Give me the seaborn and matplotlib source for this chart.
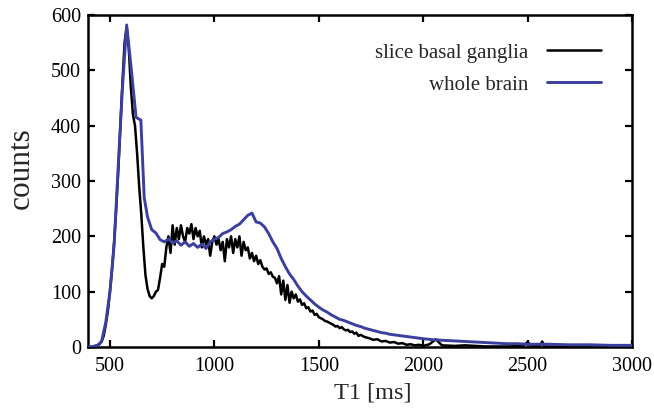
import numpy as np
import pandas as pd
import seaborn as sns
import matplotlib
matplotlib.use("Agg")
import matplotlib.pyplot as plt


sns.set_style("ticks")
plt.rcParams["font.family"] = ["Liberation Serif", "DejaVu Serif"]


# whole brain histogram
brain_t = [400, 420, 440, 460, 480, 500, 520, 540, 560, 580,
           600, 625, 648, 664, 680, 700, 720, 740, 760, 780,
           800, 820, 840, 860, 880, 900, 920, 940, 960, 980,
           1000, 1020, 1040, 1060, 1080, 1100, 1120, 1140, 1160, 1180,
           1200, 1220, 1240, 1260, 1280, 1300, 1320, 1340, 1360, 1380,
           1400, 1420, 1440, 1460, 1480, 1500, 1520, 1540, 1560, 1580,
           1600, 1620, 1640, 1660, 1680, 1700, 1720, 1740, 1760, 1780,
           1800, 1820, 1840, 1860, 1880, 1900, 1920, 1940, 1960, 1980,
           2000, 2050, 2100, 2150, 2200, 2250, 2300, 2350, 2400, 2450,
           2500, 2600, 2700, 2800, 2900, 3000]
brain_counts = [0, 1, 3, 10, 45, 100, 185, 330, 470, 582,
                510, 415, 410, 270, 235, 212, 206, 194, 190, 195,
                188, 192, 184, 190, 182, 187, 180, 186, 178, 190,
                195, 198, 205, 208, 212, 218, 222, 230, 238, 242,
                226, 224, 217, 205, 190, 178, 160, 145, 132, 122,
                110, 100, 92, 85, 78, 72, 67, 63, 58, 54,
                50, 48, 45, 42, 39, 37, 34, 32, 30, 28,
                26, 25, 23, 22, 21, 20, 19, 18, 17, 16,
                15, 13, 12, 11, 10, 9, 8, 7, 6, 6,
                5, 5, 4, 4, 3, 3]

# basal ganglia slice histogram, 10 ms bins (noisy)
slice_t = [400, 410, 420, 430, 440, 450, 460, 470, 480, 490,
           500, 510, 520, 530, 540, 550, 560, 570, 580, 590,
           600, 610, 620, 630, 640, 650, 660, 670, 680, 690,
           700, 710, 720, 730, 740, 750, 760, 770, 780, 790,
           800, 810, 820, 830, 840, 850, 860, 870, 880, 890,
           900, 910, 920, 930, 940, 950, 960, 970, 980, 990,
           1000, 1010, 1020, 1030, 1040, 1050, 1060, 1070, 1080, 1090,
           1100, 1110, 1120, 1130, 1140, 1150, 1160, 1170, 1180, 1190,
           1200, 1210, 1220, 1230, 1240, 1250, 1260, 1270, 1280, 1290,
           1300, 1310, 1320, 1330, 1340, 1350, 1360, 1370, 1380, 1390,
           1400, 1410, 1420, 1430, 1440, 1450, 1460, 1470, 1480, 1490,
           1500, 1510, 1520, 1530, 1540, 1550, 1560, 1570, 1580, 1590,
           1600, 1610, 1620, 1630, 1640, 1650, 1660, 1670, 1680, 1690,
           1700, 1720, 1740, 1760, 1780, 1800, 1820, 1840, 1860, 1880,
           1900, 1920, 1940, 1960, 1980, 2000, 2030, 2060, 2090, 2150,
           2200, 2300, 2400, 2480, 2500, 2520, 2560, 2570, 2580, 2700,
           2800, 3000]
slice_counts = [0, 0, 1, 2, 3, 5, 10, 20, 40, 65,
                100, 140, 190, 250, 320, 400, 480, 550, 578, 540,
                470, 420, 400, 350, 290, 240, 180, 130, 105, 92,
                88, 92, 100, 103, 125, 150, 145, 180, 200, 170,
                220, 185, 215, 195, 220, 200, 190, 215, 205, 222,
                195, 215, 200, 210, 180, 200, 185, 195, 165, 190,
                200, 185, 195, 175, 190, 155, 195, 180, 200, 170,
                195, 180, 200, 165, 190, 175, 180, 160, 170, 155,
                165, 150, 157, 145, 140, 142, 132, 135, 127, 125,
                115, 128, 95, 120, 85, 112, 80, 100, 88, 95,
                82, 86, 76, 79, 70, 72, 64, 66, 58, 60,
                54, 52, 50, 47, 46, 44, 42, 40, 37, 38,
                34, 36, 32, 30, 31, 27, 28, 24, 26, 20,
                22, 18, 16, 13, 14, 10, 11, 8, 9, 6,
                7, 4, 5, 3, 4, 2, 5, 14, 3, 2,
                3, 1, 1, 2, 9, 1, 2, 10, 1, 0,
                0, 0]

brain = pd.DataFrame({"T1": brain_t, "counts": brain_counts})
slc = pd.DataFrame({"T1": slice_t, "counts": slice_counts})

fig = plt.figure(figsize=(6.54, 4.08), dpi=100)
ax = fig.add_axes([0.1346, 0.1495, 0.8318, 0.8137])

sns.lineplot(x="T1", y="counts", data=slc, color="black", linewidth=1.8,
             label="slice basal ganglia", ax=ax, zorder=2)
sns.lineplot(x="T1", y="counts", data=brain, color="#3b3f9e", linewidth=2.1,
             label="whole brain", ax=ax, zorder=3)

ax.set_xlim(395, 3000)
ax.set_ylim(0, 600)
ax.set_xticks([500, 1000, 1500, 2000, 2500, 3000])
ax.set_yticks([0, 100, 200, 300, 400, 500, 600])
ax.set_xlabel("T1 [ms]", fontsize=17.5)
ax.set_ylabel("counts", fontsize=22.5)
ax.xaxis.set_label_coords(0.524, -0.108)
ax.yaxis.set_label_coords(-0.097, 0.54)

for s in ax.spines.values():
    s.set_visible(True)
    s.set_linewidth(1.8)
    s.set_color("black")
ax.tick_params(direction="in", length=5, width=1.6, labelsize=14.5,
               top=True, right=True, colors="black")
ax.tick_params(axis="x", pad=7)
ax.tick_params(axis="y", pad=5)

leg = ax.legend(loc="upper right", frameon=False, markerfirst=False,
                fontsize=15, handlelength=2.6, handletextpad=0.9,
                bbox_to_anchor=(0.978, 0.972), labelspacing=0.6)
for t in leg.get_texts():
    t.set_ha("right")

fig.savefig("out.png", dpi=100)
